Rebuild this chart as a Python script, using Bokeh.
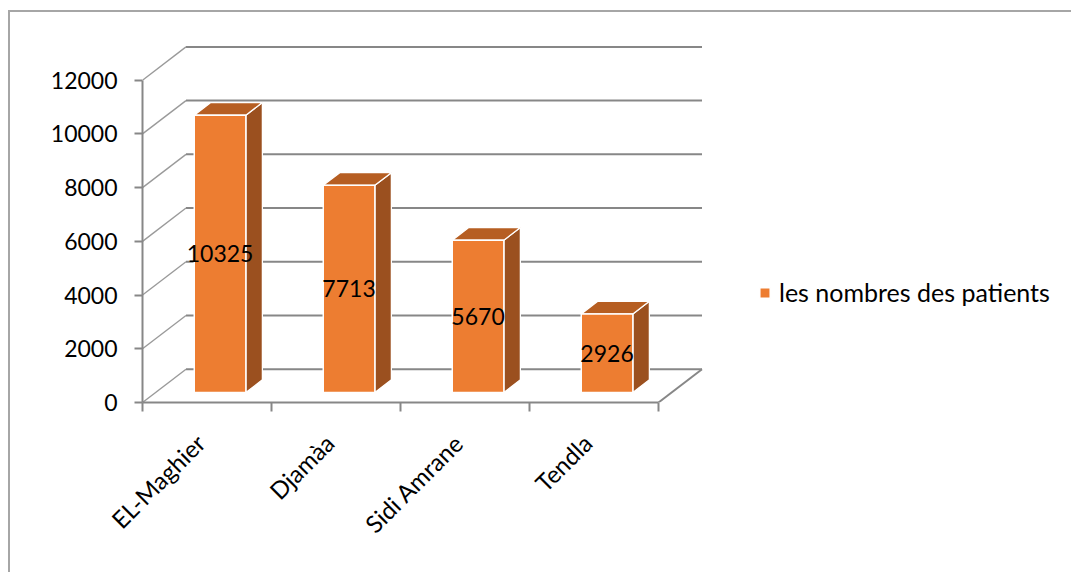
import numpy as np
from bokeh.plotting import figure
from bokeh.models import (Range1d, FixedTicker, ColumnDataSource, InlineStyleSheet,
                          Legend, LegendItem)
from bokeh.core.properties import value
from bokeh.embed import file_html
from bokeh.resources import INLINE

# ---- data ----
categories = ["EL-Maghier", "Djamàa", "Sidi Amrane", "Tendla"]
patients = [10325, 7713, 5670, 2926]
y_ticks = [0, 2000, 4000, 6000, 8000, 10000, 12000]
series_name = "les nombres des patients"

# ---- geometry / style ----
W, H = 1071, 572
LEFT, RIGHT, TOP, BOTTOM = 142, 0, 40, 170
PX_PER_CAT = 129.0
PX_PER_VAL = 322.3 / 12000.0
DX = 43.5 / PX_PER_CAT          # full depth, x (data units)
DY = 33.3 / PX_PER_VAL          # full depth, y (data units)
F1, F2 = 0.30, 0.68             # bar front/back depth fractions
BAR_L, BAR_R = 0.30, 0.70       # bar extent within category
LABEL_SHIFT = -0.05             # category label anchor offset (category units)
FONT = "Lato"
FS = "23px"
FS_CAT = "24px"
FS_LEG = "25px"
GRID = "#878787"
ORANGE = "#ED7D31"
SIDE = "#9B501F"
TOPC = "#B65E22"

n = len(categories)
x_end = (W - LEFT - RIGHT) / PX_PER_CAT
y_end = (H - TOP - BOTTOM) / PX_PER_VAL

p = figure(width=W, height=H, output_backend="svg", toolbar_location=None,
           x_range=Range1d(0, x_end), y_range=Range1d(0, y_end),
           min_border_left=LEFT, min_border_right=RIGHT,
           min_border_top=TOP, min_border_bottom=BOTTOM,
           background_fill_color=None, border_fill_color="white")
p.outline_line_color = None
p.xgrid.visible = False
p.ygrid.visible = False

# outer chart border (left and top edges visible in the picture)
p.stylesheets = [InlineStyleSheet(css="""
:host { position: relative; }
:host::after {
  content: ""; position: absolute; left: 8px; top: 10px; right: 0; bottom: 0;
  border-left: 2px solid #a6a6a6; border-top: 2px solid #a6a6a6;
  pointer-events: none;
}
""")]

# back wall gridlines
p.segment(x0=[DX] * len(y_ticks), x1=[n + DX] * len(y_ticks),
          y0=[t + DY for t in y_ticks], y1=[t + DY for t in y_ticks],
          line_color=GRID, line_width=2)
# left wall diagonals
p.segment(x0=[0] * len(y_ticks), x1=[DX] * len(y_ticks),
          y0=y_ticks, y1=[t + DY for t in y_ticks],
          line_color="#9a9a9a", line_width=1.4)
# floor right edge
p.segment(x0=[n], x1=[n + DX], y0=[0], y1=[DY], line_color=GRID, line_width=2)

# bars
idx = np.arange(n)
fl = idx + BAR_L + F1 * DX
fr = idx + BAR_R + F1 * DX
fb = np.full(n, F1 * DY)
ft = np.array(patients, dtype=float) + F1 * DY
ddx = (F2 - F1) * DX
ddy = (F2 - F1) * DY

side_xs = [[r, r + ddx, r + ddx, r] for r in fr]
side_ys = [[b, b + ddy, t + ddy, t] for b, t in zip(fb, ft)]
top_xs = [[l, r, r + ddx, l + ddx] for l, r in zip(fl, fr)]
top_ys = [[t, t, t + ddy, t + ddy] for t in ft]

p.patches(side_xs, side_ys, fill_color=SIDE, line_color="white", line_width=1.3)
p.patches(top_xs, top_ys, fill_color=TOPC, line_color="white", line_width=1.3)
src = ColumnDataSource(dict(left=fl, right=fr, bottom=fb, top=ft,
                            xc=(fl + fr) / 2, yc=(fb + ft) / 2,
                            lab=[str(v) for v in patients]))
front = p.quad(left="left", right="right", bottom="bottom", top="top", source=src,
               fill_color=ORANGE, line_color="white", line_width=1.5)
p.text(x="xc", y="yc", text="lab", source=src, text_align="center",
       text_baseline="middle", text_font=value(FONT), text_font_size=FS,
       text_color="#000000")

# y axis
ya = p.yaxis[0]
ya.ticker = FixedTicker(ticks=y_ticks)
ya.bounds = (0, 12000)
ya.axis_line_color = GRID
ya.axis_line_width = 2
ya.major_tick_out = 8
ya.major_tick_in = 0
ya.major_tick_line_color = GRID
ya.major_tick_line_width = 2
ya.minor_tick_line_color = None
ya.major_label_text_font = FONT
ya.major_label_text_font_size = FS
ya.major_label_text_color = "#000000"
ya.major_label_standoff = 17

# x axis
xa = p.xaxis[0]
label_pos = [i + 0.5 + LABEL_SHIFT for i in range(n)]
xa.ticker = FixedTicker(ticks=label_pos, minor_ticks=list(range(n + 1)))
xa.major_label_overrides = {pos: c for pos, c in zip(label_pos, categories)}
xa.bounds = (0, n)
xa.axis_line_color = GRID
xa.axis_line_width = 2
xa.major_tick_out = 0
xa.major_tick_in = 0
xa.major_tick_line_color = None
xa.minor_tick_out = 9
xa.minor_tick_in = 0
xa.minor_tick_line_color = GRID
xa.minor_tick_line_width = 2
xa.major_label_orientation = np.pi / 4
xa.major_label_text_font = FONT
xa.major_label_text_font_size = FS_CAT
xa.major_label_text_color = "#000000"
xa.major_label_standoff = 27

# legend
legend = Legend(items=[LegendItem(label=series_name, renderers=[front])],
                location=(616, 95), padding=0, margin=0, spacing=0,
                glyph_width=13, glyph_height=13, label_standoff=8,
                label_text_font=FONT, label_text_font_size=FS_LEG,
                label_text_color="#000000",
                border_line_color=None, background_fill_alpha=0)
p.add_layout(legend)

open("out.html", "w").write(file_html(p, INLINE))
